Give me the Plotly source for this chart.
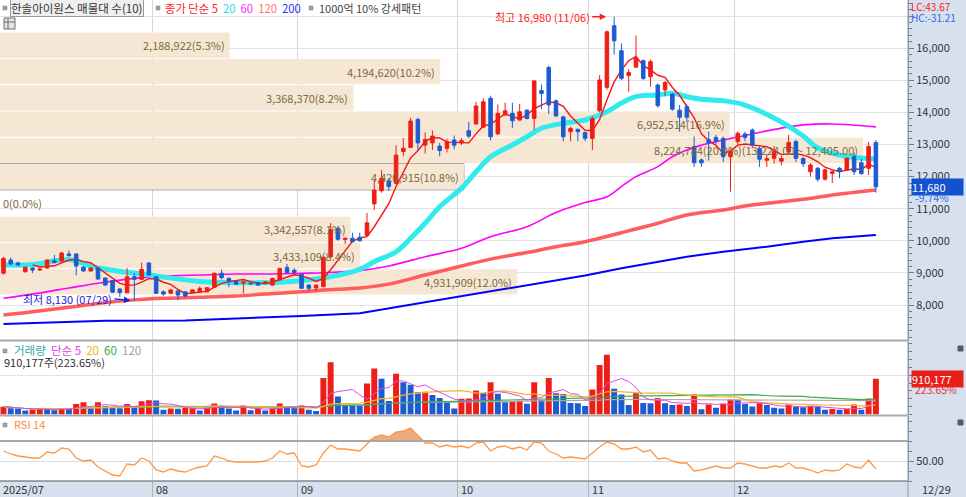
import pandas as pd
import plotly.graph_objects as go

# ---------------- data ----------------
HOLIDAYS = ["2025-08-15", "2025-10-03", "2025-10-06", "2025-10-07",
            "2025-10-08", "2025-10-09", "2025-12-25"]
dates = [d for d in pd.bdate_range("2025-07-03", "2025-12-29")
         if d.strftime("%Y-%m-%d") not in HOLIDAYS]

opens = [8990, 9400, 9310, 9040, 9150, 9090, 9150, 9380, 9370, 9590,
         9590, 9180, 9060, 9150, 8840, 8760, 8500, 8380, 8880, 8800,
         9310, 8880, 8410, 8365, 8440, 8410, 8380, 8410, 8410, 8550,
         8990, 8830, 8730, 8680, 8680, 8700, 8660, 8620, 8780, 9170,
         9080, 8960, 8620, 8530, 8570, 9500, 10390, 10040, 10080, 10110,
         10170, 11150, 11560, 11870, 11790, 12780, 12910, 13780, 12980, 13050,
         12950, 12880, 13140, 13050, 13430, 13640, 13540, 14440, 13330, 13920,
         13970, 13760, 14070, 13810, 14680, 15400, 14360, 13860, 13400, 13470,
         13370, 13190, 14050, 14780, 16700, 15920, 15150, 15410, 15610, 15110,
         14850, 14700, 14570, 14070, 14180, 12930, 12520, 13150, 13220, 13190,
         12620, 13090, 13330, 13450, 12870, 12510, 12570, 12480, 12780, 13090,
         12560, 12150, 12260, 11920, 12100, 12260, 12200, 12620, 12430, 12260,
         13060]
closes = [9450, 9280, 9250, 9180, 9090, 9120, 9400, 9320, 9620, 9540,
          9215, 9060, 9150, 8810, 8620, 8400, 8390, 8880, 8800, 9110,
          8935, 8365, 8340, 8470, 8310, 8280, 8470, 8520, 8540, 8990,
          8850, 8750, 8650, 8720, 8660, 8620, 8720, 8830, 9140, 9010,
          9010, 8520, 8520, 8620, 9490, 10340, 10050, 10080, 9970, 10000,
          10560, 11580, 11950, 11690, 12670, 12880, 13730, 13050, 13160, 13260,
          12810, 13090, 12980, 13120, 13260, 14200, 14330, 13240, 13970, 14050,
          13740, 14020, 13810, 14980, 14590, 14230, 13890, 13240, 13500, 13400,
          13190, 13810, 15010, 16510, 16230, 15060, 15240, 15690, 15060, 15580,
          14210, 14930, 14100, 13850, 13850, 12430, 12430, 13050, 13100, 12620,
          12780, 13350, 13220, 12980, 12540, 12560, 12780, 12560, 13060, 12570,
          12400, 12360, 11920, 12210, 12150, 12150, 12570, 12150, 12100, 12940,
          11680]
highs = [9500, 9480, 9350, 9200, 9180, 9150, 9420, 9560, 9650, 9700,
         9600, 9200, 9170, 9160, 8860, 8780, 8520, 9150, 8990, 9320,
         9330, 8890, 8460, 8500, 8460, 8430, 8490, 8580, 8560, 9010,
         9100, 8860, 8760, 8750, 8700, 8720, 8740, 8850, 9160, 9280,
         9150, 8970, 8640, 8640, 9500, 10550, 10450, 10100, 10250, 10250,
         10870, 11900, 12200, 11950, 12980, 13200, 13830, 13830, 13380, 13440,
         13050, 13180, 13280, 13200, 13700, 14330, 14440, 14520, 14250, 14300,
         14300, 14260, 14100, 15000, 14870, 15450, 14400, 13900, 13560, 13500,
         13400, 13880, 15160, 16550, 16980, 16150, 15350, 16400, 15650, 15650,
         14900, 14980, 14600, 14230, 14250, 13250, 12560, 13400, 13300, 13250,
         12850, 13400, 13400, 13500, 12950, 12700, 12950, 12650, 13300, 13150,
         12620, 12420, 12300, 12250, 12200, 12300, 12600, 12750, 12550, 13080,
         13140]
lows = [8950, 9230, 9200, 9000, 9000, 9060, 9130, 9300, 9350, 9500,
        8930, 9040, 9040, 8790, 8600, 8380, 8250, 8370, 8130, 8790,
        8920, 8350, 8290, 8340, 8150, 8260, 8360, 8400, 8400, 8540,
        8800, 8550, 8630, 8360, 8640, 8600, 8650, 8610, 8770, 9000,
        8950, 8510, 8420, 8430, 8560, 9480, 10000, 9900, 9950, 9980,
        10150, 10960, 11500, 11550, 11760, 12630, 12890, 12800, 12720, 12830,
        12630, 12750, 12850, 12980, 13200, 13620, 13520, 13130, 13300, 13900,
        13520, 13740, 13780, 13450, 14100, 13950, 13850, 13100, 13100, 13100,
        13100, 12830, 14000, 14700, 15800, 15000, 14640, 15380, 15000, 14800,
        14150, 14500, 14050, 13400, 13700, 12300, 12300, 12500, 13000, 12450,
        11530, 13000, 13100, 12900, 12300, 12300, 12400, 12350, 12700, 12450,
        12300, 12000, 11850, 11880, 11800, 11950, 12180, 12050, 12050, 12050,
        11500]
volumes = [200000, 160000, 150000, 100000, 130000, 150000, 140000, 110000, 150000, 140000,
           270000, 310000, 160000, 310000, 210000, 200000, 160000, 270000, 180000, 340000,
           360000, 355000, 120000, 150000, 145000, 170000, 175000, 100000, 170000, 280000,
           230000, 150000, 100000, 230000, 110000, 150000, 100000, 150000, 280000, 210000,
           170000, 230000, 120000, 90000, 930000, 1330000, 460000, 240000, 230000, 220000,
           790000, 1170000, 910000, 345000, 1040000, 820000, 760000, 570000, 580000, 500000,
           420000, 315000, 150000, 400000, 410000, 610000, 540000, 820000, 530000, 315000,
           340000, 350000, 275000, 820000, 370000, 930000, 540000, 520000, 295000, 285000,
           215000, 635000, 1260000, 1520000, 655000, 510000, 245000, 540000, 295000, 285000,
           420000, 285000, 245000, 255000, 215000, 510000, 135000, 255000, 175000, 275000,
           385000, 375000, 265000, 205000, 285000, 245000, 175000, 155000, 255000, 195000,
           185000, 225000, 205000, 118000, 137000, 118000, 137000, 255000, 118000, 406965,
           910177]
rsi14 = [60, 57, 55, 54, 53, 53, 59, 58, 63, 62,
         53, 50, 51, 44, 40, 36, 35, 47, 46, 53,
         50, 41, 39, 42, 40, 39, 42, 44, 45, 55,
         53, 50, 49, 49, 49, 49, 50, 53, 60, 57,
         58, 45, 44, 46, 58, 66, 62, 62, 61, 60,
         67, 74, 76, 74, 79, 80, 83, 75, 68, 68,
         64, 66, 64, 65, 63, 68, 69, 60, 64, 65,
         62, 64, 61, 69, 68, 60, 57, 53, 54, 53,
         52, 58, 64, 69, 67, 62, 62, 64, 59, 61,
         52, 53, 50, 48, 48, 40, 41, 43, 45, 43,
         43, 48, 47, 45, 43, 43, 45, 44, 48, 43,
         43, 41, 38, 41, 40, 41, 47, 44, 43, 51,
         42]

# moving averages (candle index, price)
ma20_idx = [0, 4, 9, 13, 20, 27, 32, 39, 44, 49, 51, 54, 56, 58, 60, 63, 65, 67, 70, 72,
            74, 77, 80, 83, 85, 87, 90, 92, 94, 96, 99, 102, 107, 110, 112, 115, 118, 120]
ma20_val = [9246, 9262, 9417, 9153, 8935, 8732, 8695, 8726, 8841, 9110, 9350, 9660, 10080,
            10545, 11060, 11640, 12150, 12620, 12985, 13240, 13505, 13660, 13763, 14021,
            14292, 14489, 14542, 14594, 14489, 14408, 14364, 14230, 13700, 13264, 12890,
            12673, 12579, 12548]
ma60_idx = [0, 4, 9, 13, 18, 22, 27, 32, 36, 41, 44, 49, 53, 58, 63, 67, 72, 76, 80, 83,
            85, 87, 90, 92, 94, 96, 99, 103, 107, 110, 114, 120]
ma60_val = [8210, 8340, 8530, 8680, 8830, 8900, 8935, 8965, 8965, 8990, 9005, 9070, 9215,
            9505, 9766, 10128, 10439, 10880, 11190, 11370, 11690, 12000, 12310, 12620,
            12830, 12980, 13140, 13330, 13510, 13610, 13640, 13550]
ma120_idx = [0, 4, 9, 13, 18, 22, 27, 32, 36, 41, 44, 49, 53, 58, 63, 67, 72, 76, 80, 85,
             90, 94, 99, 102, 105, 110, 114, 120]
ma120_val = [7690, 7790, 7930, 8050, 8160, 8210, 8240, 8280, 8340, 8410, 8470, 8530, 8650,
             8935, 9215, 9430, 9635, 9816, 9972, 10252, 10545, 10803, 10959, 11084, 11168,
             11293, 11427, 11582]
ma200_idx = [0, 6, 14, 25, 34, 41, 49, 58, 67, 76, 80, 85, 90, 94, 99, 105, 110, 114, 120]
ma200_val = [7408, 7449, 7511, 7517, 7586, 7657, 7741, 8078, 8420, 8748, 8920, 9143, 9355,
             9505, 9660, 9816, 9972, 10078, 10180]

# price-volume bands (매물대, 10 bands)
band_low = [8310, 9129, 9948, 10767, 11586, 12405, 13224, 14043, 14862, 15681]
band_size = 819
band_vol = [4931909, 3433109, 3342557, 0, 4420915, 8224784, 6952514, 3368370, 4194620, 2188922]

# ---------------- layout constants ----------------
W, H = 966, 497
PLOT_R = 908
PX_PER_BAR = 7.27
X0 = -0.48
X1 = X0 + PLOT_R / PX_PER_BAR
BAND_FULL = 863 / PX_PER_BAR
FONT = "Noto Sans CJK KR"

UP = "#ee1e16"
DOWN = "#1c5cd2"


def fx(px):
    return px / W


def fy(py):
    return 1 - py / H


n = len(dates)
idx = list(range(n))

fig = go.Figure()

# ---- volume-profile bands ----
vmax = max(band_vol)
vtot = sum(band_vol)
band_len = [v / vmax * BAND_FULL for v in band_vol]
fig.add_trace(go.Bar(
    orientation="h", y=[lo + band_size / 2 for lo in band_low], x=band_len, base=X0,
    width=band_size * 0.965, marker=dict(color="#f6e7d5", line=dict(width=0)),
    xaxis="x", yaxis="y", hoverinfo="skip"))

# ---- moving averages ----
ma5 = pd.Series(closes).rolling(5).mean()
fig.add_trace(go.Scatter(x=ma200_idx, y=ma200_val, mode="lines",
                         line=dict(color="#0000ff", width=2), xaxis="x", yaxis="y"))
fig.add_trace(go.Scatter(x=ma120_idx, y=ma120_val, mode="lines",
                         line=dict(color="#ff5c5c", width=3.5, shape="spline"), xaxis="x", yaxis="y"))
fig.add_trace(go.Scatter(x=ma60_idx, y=ma60_val, mode="lines",
                         line=dict(color="#ff00ff", width=1.6, shape="spline"), xaxis="x", yaxis="y"))
fig.add_trace(go.Scatter(x=ma20_idx, y=ma20_val, mode="lines",
                         line=dict(color="#30eaee", width=5, shape="spline"), xaxis="x", yaxis="y"))
fig.add_trace(go.Scatter(x=idx, y=ma5, mode="lines",
                         line=dict(color="#ff1010", width=1.4), xaxis="x", yaxis="y"))

# ---- candles (overlay axis so they sit above the lines) ----
fig.add_trace(go.Candlestick(
    x=idx, open=opens, high=highs, low=lows, close=closes,
    increasing=dict(line=dict(color=UP, width=1), fillcolor=UP),
    decreasing=dict(line=dict(color=DOWN, width=1), fillcolor=DOWN),
    xaxis="x2", yaxis="y", hoverinfo="skip"))

# ---- volume ----
vcolors = [UP] + [UP if volumes[i] > volumes[i - 1] else DOWN for i in range(1, n)]
fig.add_trace(go.Bar(x=idx, y=volumes, width=0.82, marker=dict(color=vcolors, line=dict(width=0)),
                     xaxis="x", yaxis="y2", hoverinfo="skip"))
vs = pd.Series(volumes)
for w, col, lw in [(120, "#a8a8a8", 1.2), (60, "#3caa55", 1.2), (20, "#f6b428", 1.2), (5, "#e048e0", 1.0)]:
    fig.add_trace(go.Scatter(x=idx, y=vs.rolling(w, min_periods=1).mean(), mode="lines",
                             line=dict(color=col, width=lw), xaxis="x", yaxis="y2"))

# ---- RSI ----
fig.add_trace(go.Scatter(x=idx, y=[70] * n, mode="lines", line=dict(width=0),
                         xaxis="x", yaxis="y3", hoverinfo="skip"))
fig.add_trace(go.Scatter(x=idx, y=[max(v, 70) for v in rsi14], mode="lines", line=dict(width=0),
                         fill="tonexty", fillcolor="rgba(234,150,95,0.8)", xaxis="x", yaxis="y3"))
fig.add_trace(go.Scatter(x=idx, y=rsi14, mode="lines", line=dict(color="#ff9844", width=1.3),
                         xaxis="x", yaxis="y3"))

# ---------------- annotations ----------------
ann = []


def txt(text, x, y, color="#333333", size=11, xanchor="left", yanchor="middle", **kw):
    d = dict(text=text, x=fx(x), y=fy(y), xref="paper", yref="paper", showarrow=False,
             font=dict(family=FONT, size=size, color=color), xanchor=xanchor, yanchor=yanchor)
    d.update(kw)
    ann.append(d)


# band labels
cur_band = max(k for k in range(len(band_low)) if closes[-1] >= band_low[k])
for k, (lo, v) in enumerate(zip(band_low, band_vol)):
    label = f"{v:,}({v / vtot * 100:.1f}%)"
    if v == vmax:
        label += f"({lo + band_size:,.2f} ~ {lo:,.2f})"
    ann.append(dict(text=label, x=X0 + band_len[k], y=lo + band_size / 2, xref="x", yref="y",
                    showarrow=False, xanchor="right" if v > 0 else "left",
                    xshift=-3 if v > 0 else 1,
                    font=dict(family=FONT, size=11, color="#7a6a3c")))

# high / low markers
imax = max(idx, key=lambda i: highs[i])
imin = min(idx, key=lambda i: lows[i])
ann.append(dict(text=f"최고 {highs[imax]:,} ({dates[imax]:%m/%d})", x=imax, y=highs[imax],
                xref="x2", yref="y", showarrow=True, ax=-22, ay=0, xanchor="right",
                arrowhead=2, arrowsize=1, arrowwidth=1.3, arrowcolor="#ff2020", standoff=8,
                font=dict(family=FONT, size=11, color="#ff2020")))
ann.append(dict(text=f"최저 {lows[imin]:,} ({dates[imin]:%m/%d})", x=imin, y=lows[imin],
                xref="x2", yref="y", showarrow=True, ax=-20, ay=-2, xanchor="right",
                arrowhead=2, arrowsize=1, arrowwidth=1.3, arrowcolor="#1a22e0", standoff=4,
                font=dict(family=FONT, size=11, color="#1a22e0")))

# top legend
txt("한솔아이원스 매물대 수(10)", 10, 7.5, color="#333333", size=11.5, bordercolor="#9a9a9a",
    borderwidth=1, bgcolor="#efefef", borderpad=0)
txt("<span style='color:#ff2424'>종가 단순 5</span>&nbsp;&nbsp;<span style='color:#22e0e8'>20</span>"
    "&nbsp;&nbsp;<span style='color:#ff30ff'>60</span>&nbsp;&nbsp;<span style='color:#ff7070'>120</span>"
    "&nbsp;&nbsp;<span style='color:#2a2aff'>200</span>", 163, 7.5, size=11.3)
txt("1000억 10% 강세패턴", 317, 7.5, color="#444444")

# volume legend
txt("<span style='color:#3aa6a6'>거래량</span>&nbsp;&nbsp;<span style='color:#e048e0'>단순 5</span>"
    "&nbsp;&nbsp;<span style='color:#f2b21c'>20</span>&nbsp;&nbsp;<span style='color:#3caa55'>60</span>"
    "&nbsp;&nbsp;<span style='color:#a0a0a0'>120</span>", 12, 350, size=11.5)
txt(f"{volumes[-1]:,}주({volumes[-1] / volumes[-2] * 100:.2f}%)", 2, 362)

# RSI legend
txt("RSI 14", 12, 424, color="#ff8a3a")

# right side info
last, prev = closes[-1], closes[-2]
txt(f"LC:{(last / lows[imin] - 1) * 100:.2f}", 910, 6.5, color="#ff2020", size=10, borderpad=0)
txt(f"HC:{(last / highs[imax] - 1) * 100:.2f}", 910, 17, color="#2e6ae6", size=10, borderpad=0)
ann.append(dict(text=f"{last:,}", x=fx(911), y=last, xref="paper", yref="y", showarrow=False,
                xanchor="left", yanchor="middle", align="left", width=51, bgcolor="#1450d0",
                borderpad=0, font=dict(family=FONT, size=11, color="white")))
ann.append(dict(text=f"{(last / prev - 1) * 100:.2f}%", x=fx(914), y=last, xref="paper", yref="y",
                yshift=-11, showarrow=False, xanchor="left", yanchor="middle", borderpad=0,
                font=dict(family=FONT, size=10.5, color="#2e6ae6")))
ann.append(dict(text=f"{volumes[-1]:,}", x=fx(911), y=volumes[-1], xref="paper", yref="y2",
                showarrow=False, xanchor="left", yanchor="middle", align="left", width=51,
                bgcolor="#e81e18", borderpad=0, font=dict(family=FONT, size=11, color="white")))
ann.append(dict(text=f"{volumes[-1] / volumes[-2] * 100:.2f}%", x=fx(914), y=volumes[-1],
                xref="paper", yref="y2", yshift=-11, showarrow=False, xanchor="left",
                yanchor="middle", borderpad=0, font=dict(family=FONT, size=10.5, color="#e83030")))

# x-axis month labels
month_starts = [i for i in range(1, n) if dates[i].month != dates[i - 1].month]
ann.append(dict(text=f"{dates[0]:%Y/%m}", x=X0, y=fy(489), xref="x", yref="paper",
                showarrow=False, xanchor="left", yanchor="middle", xshift=1,
                font=dict(family=FONT, size=11, color="#333333")))
for i in month_starts:
    ann.append(dict(text=f"{dates[i]:%m}", x=i - 0.5, y=fy(489), xref="x", yref="paper",
                    showarrow=False, xanchor="left", yanchor="middle", xshift=1,
                    font=dict(family=FONT, size=11, color="#333333")))
txt(f"{dates[-1]:%m/%d}", 920, 489)

# ---------------- shapes ----------------
shapes = []
BG = "#d6e0ee"
shapes.append(dict(type="rect", xref="paper", yref="paper", x0=fx(PLOT_R), x1=1, y0=0, y1=1,
                   fillcolor=BG, line=dict(width=0), layer="below"))
shapes.append(dict(type="rect", xref="paper", yref="paper", x0=0, x1=1, y0=0, y1=fy(481),
                   fillcolor=BG, line=dict(width=0), layer="below"))
shapes.append(dict(type="line", xref="paper", yref="paper", x0=fx(PLOT_R), x1=fx(PLOT_R),
                   y0=0, y1=1, line=dict(color="#8e98aa", width=1)))
for yy in (340.5, 415.5):
    shapes.append(dict(type="line", xref="paper", yref="paper", x0=0, x1=fx(PLOT_R),
                       y0=fy(yy), y1=fy(yy), line=dict(color="#a8a8a8", width=2)))
for lvl in (70, 30):
    shapes.append(dict(type="line", xref="paper", yref="y3", x0=0, x1=fx(PLOT_R),
                       y0=lvl, y1=lvl, line=dict(color="#a8a8a8", width=2)))
# current-price band outline
shapes.append(dict(type="rect", xref="x", yref="y", x0=X0, x1=X0 + band_len[cur_band],
                   y0=band_low[cur_band], y1=band_low[cur_band] + band_size,
                   line=dict(color="#8a8a8a", width=1), layer="between"))
# legend bullets and icons
for (bx, by) in [(3, 6), (156, 6), (309, 6), (3, 349), (3, 423)]:
    shapes.append(dict(type="rect", xref="paper", yref="paper", x0=fx(bx), x1=fx(bx + 4),
                       y0=fy(by + 4), y1=fy(by), fillcolor="#a0a0a0", line=dict(color="#808080", width=0.5)))
shapes.append(dict(type="rect", xref="paper", yref="paper", x0=fx(4), x1=fx(15), y0=fy(29), y1=fy(18),
                   fillcolor="#e4e4e4", line=dict(color="#6c6c6c", width=1)))
shapes.append(dict(type="line", xref="paper", yref="paper", x0=fx(4), x1=fx(15), y0=fy(22), y1=fy(22),
                   line=dict(color="#6c6c6c", width=1)))
shapes.append(dict(type="line", xref="paper", yref="paper", x0=fx(8), x1=fx(8), y0=fy(29), y1=fy(18),
                   line=dict(color="#6c6c6c", width=1)))
for iy in (346, 420):
    shapes.append(dict(type="rect", xref="paper", yref="paper", x0=fx(958), x1=fx(963),
                       y0=fy(iy + 5), y1=fy(iy), fillcolor="#5a5a5a", line=dict(color="#5a5a5a", width=1)))

tickfont = dict(family=FONT, size=11, color="#333333")
price_ticks = list(range(8000, 17001, 1000))

fig.update_layout(
    width=W, height=H, margin=dict(l=0, r=0, t=0, b=0),
    paper_bgcolor="white", plot_bgcolor="white", showlegend=False, hovermode=False,
    barmode="overlay", font=dict(family=FONT, size=11, color="#333333"),
    annotations=ann, shapes=shapes,
    xaxis=dict(domain=[0, fx(PLOT_R)], range=[X0, X1], anchor="y3",
               tickvals=[i - 0.5 for i in month_starts], showticklabels=False,
               showgrid=True, gridcolor="#d6d6d6", gridwidth=1, ticks="outside", ticklen=16,
               tickcolor="#b4b4b4", showline=True, linecolor="#9c9c9c", zeroline=False,
               fixedrange=True),
    xaxis2=dict(overlaying="x", anchor="y", range=[X0, X1], visible=False,
                rangeslider=dict(visible=False), fixedrange=True),
    yaxis=dict(domain=[fy(340), 1], range=[6910, 17501], side="right", anchor="x",
               tickvals=price_ticks,
               ticktext=[f"{v:,}" if v < 17000 else "" for v in price_ticks],
               showgrid=True, gridcolor="#e3e3e3", ticks="outside", ticklen=5,
               tickcolor="#7a7a7a", showline=True, linecolor="#8e98aa", zeroline=False,
               minor=dict(dtick=200, tick0=0, ticks="outside", ticklen=3, tickcolor="#7a7a7a",
                          showgrid=False),
               tickfont=tickfont, fixedrange=True),
    yaxis2=dict(domain=[fy(414.5), fy(341.5)], range=[0, 1.86e6], side="right", anchor="x",
                tickvals=[1e6], ticktext=["1,000K"], showgrid=True, gridcolor="#e3e3e3",
                ticks="outside", ticklen=5, tickcolor="#7a7a7a", showline=True,
                linecolor="#8e98aa", zeroline=False,
                minor=dict(dtick=2e5, tick0=0, ticks="outside", ticklen=3, tickcolor="#7a7a7a",
                           showgrid=False),
                tickfont=tickfont, fixedrange=True),
    yaxis3=dict(domain=[fy(481), fy(416)], range=[30, 95], side="right", anchor="x",
                tickvals=[50], ticktext=["50.00"], showgrid=True, gridcolor="#dcdcdc",
                ticks="outside", ticklen=5, tickcolor="#7a7a7a", showline=True,
                linecolor="#8e98aa", zeroline=False,
                minor=dict(dtick=10, tick0=0, ticks="outside", ticklen=3, tickcolor="#7a7a7a",
                           showgrid=False),
                tickfont=tickfont, fixedrange=True),
)

fig.write_html("out.html", include_plotlyjs=True, full_html=True,
               config={"displayModeBar": False, "staticPlot": True},
               post_script="document.body.style.margin='0px';document.body.style.overflow='hidden';")
